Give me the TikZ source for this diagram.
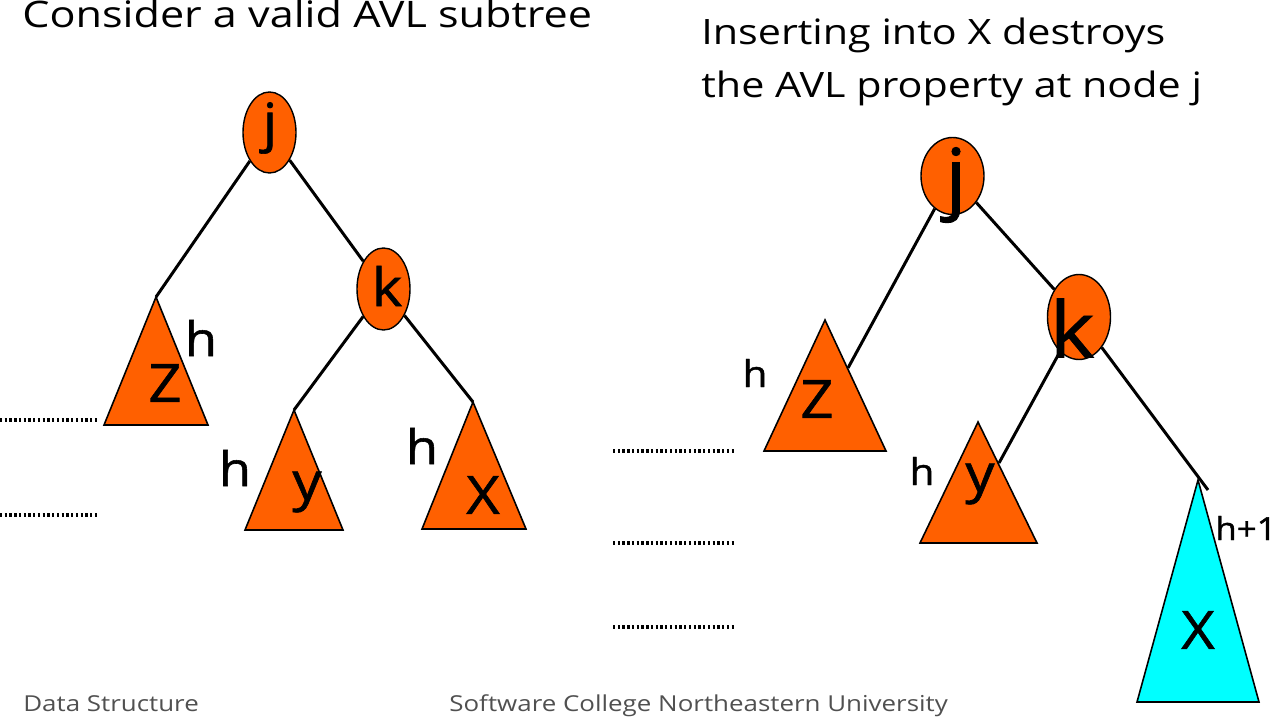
\documentclass[tikz,border=0pt]{standalone}
\usepackage{fontspec}
\setmainfont{Open Sans}[FakeStretch=1.18]
\newfontfamily\lettfont{Open Sans}[FakeStretch=1.1, FakeBold=1.2]
\usetikzlibrary{shapes.geometric}
\definecolor{avlorange}{RGB}{255,96,0}
\definecolor{avlcyan}{RGB}{0,255,255}
\definecolor{footgray}{RGB}{80,80,80}
\tikzset{
  treenode/.style={ellipse, draw=black, fill=avlorange, inner sep=0pt, line width=0.8pt},
  tri/.style={draw=black, line width=0.9pt, fill=avlorange},
  tricyan/.style={draw=black, line width=0.9pt, fill=avlcyan},
  edge/.style={line width=1.7pt},
  levels/.style={line width=2pt, dash pattern=on 1.3pt off 1.4pt},
  title/.style={anchor=base west, inner sep=0pt, font=\fontsize{20.3}{24}\selectfont},
  foot/.style={anchor=base west, inner sep=0pt, text=footgray, font=\fontsize{12.5}{15}\selectfont},
  letter/.style={inner sep=0pt, font=\lettfont\fontsize{30}{34}\selectfont},
  hlab/.style={inner sep=0pt, font=\lettfont\fontsize{27}{30}\selectfont}
}
\begin{document}
\begin{tikzpicture}[x=0.2mm, y=-0.2mm]
\useasboundingbox (0,0) rectangle (1282,720);

% titles
\node[title, font=\fontsize{20.8}{24}\selectfont] (t1) at (22,28) {Consider a valid AVL subtree};
\node[title, font=\fontsize{19.9}{24}\selectfont] (t2) at (701,45) {Inserting into X destroys};
\node[title, font=\fontsize{19.9}{24}\selectfont] (t3) at (701,98) {the AVL property at node j};

% ---------- left tree ----------
\node[treenode, minimum width=10.6mm, minimum height=16.2mm] (lj) at (269.5,132.5) {};
\node[letter] (ljt) at (270,128) {j};
\node[treenode, minimum width=10.6mm, minimum height=16.4mm] (lk) at (383.5,289) {};
\node[letter] (lkt) at (387,286) {k};

\coordinate (lZa) at (156,297);
\coordinate (lYa) at (294,410);
\coordinate (lXa) at (473,402);
\draw[tri] (lZa) -- (208,425) -- (104,425) -- cycle;
\draw[tri] (lYa) -- (343,530) -- (245,530) -- cycle;
\draw[tri] (lXa) -- (526,529) -- (422,529) -- cycle;
\node[letter] (lZt) at (165,383) {Z};
\node[letter] (lYt) at (307,492) {y};
\node[letter] (lXt) at (483,495) {X};

\draw[edge] (lj) -- (lZa);
\draw[edge] (lj) -- (lk);
\draw[edge] (lk) -- (lYa);
\draw[edge] (lk) -- (lXa);

\node[hlab] (lh1) at (201,338) {h};
\node[hlab] (lh2) at (235,468) {h};
\node[hlab] (lh3) at (422,446) {h};

\coordinate (ld1a) at (0,420);  \coordinate (ld1b) at (98,420);
\coordinate (ld2a) at (0,515);  \coordinate (ld2b) at (98,515);
\draw[levels] (ld1a) -- (ld1b);
\draw[levels] (ld2a) -- (ld2b);

% ---------- right tree ----------
\coordinate (rd1a) at (613,451); \coordinate (rd1b) at (736,451);
\coordinate (rd2a) at (613,543); \coordinate (rd2b) at (736,543);
\coordinate (rd3a) at (613,627); \coordinate (rd3b) at (736,627);
\draw[levels] (rd1a) -- (rd1b);
\draw[levels] (rd2a) -- (rd2b);
\draw[levels] (rd3a) -- (rd3b);

\node[treenode, minimum width=12.6mm, minimum height=15.4mm] (rj) at (952.5,176) {};
\node[treenode, minimum width=12.6mm, minimum height=17mm] (rk) at (1079,317) {};

\coordinate (rZa) at (825,320);
\coordinate (rZe) at (848,368);
\coordinate (rYa) at (978,422);
\coordinate (rYe) at (999,463);
\coordinate (rXa) at (1198,480);
\coordinate (rXe) at (1208,490);
\draw[tri] (rZa) -- (886,451) -- (764,451) -- cycle;
\draw[tri] (rYa) -- (1037,543) -- (920,543) -- cycle;
\draw[tricyan] (rXa) -- (1259,702) -- (1137,702) -- cycle;

\draw[edge] (rj) -- (rZe);
\draw[edge] (rj) -- (rk);
\draw[edge] (rk) -- (rYe);
\draw[edge] (rk) -- (rXe);

\node[letter, font=\lettfont\fontsize{44}{48}\selectfont] (rjt) at (956,185) {j};
\node[letter, font=\lettfont\fontsize{44}{48}\selectfont] (rkt) at (1072,328) {k};
\node[letter] (rZt) at (817,399) {Z};
\node[letter] (rYt) at (980,484) {y};
\node[letter] (rXt) at (1198,630) {X};

\node[hlab, font=\lettfont\fontsize{21}{24}\selectfont] (rh1) at (755,373) {h};
\node[hlab, font=\lettfont\fontsize{21}{24}\selectfont] (rh2) at (922,471) {h};
\node[hlab, font=\lettfont\fontsize{18}{21}\selectfont] (rh3) at (1246,528) {h+1};

% footer
\node[foot] (f1) at (23,711) {Data Structure};
\node[foot] (f2) at (449,711) {Software College Northeastern University};
\end{tikzpicture}
\end{document}
